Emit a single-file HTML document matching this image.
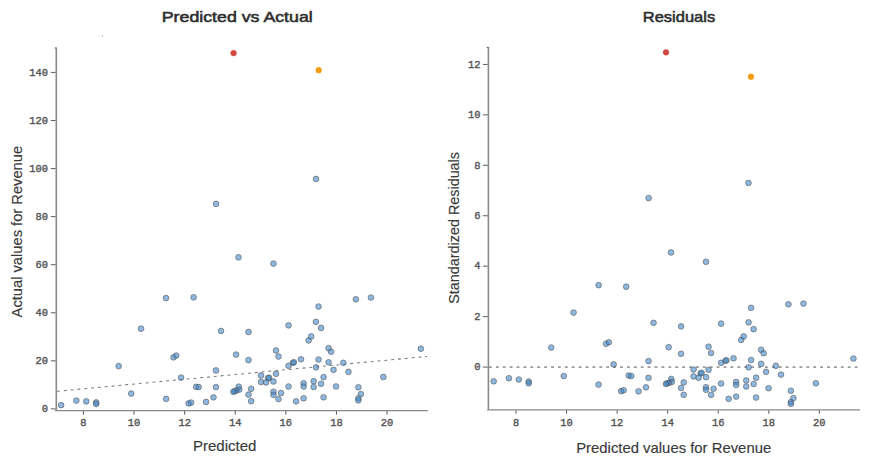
<!DOCTYPE html>
<html><head><meta charset="utf-8"><title>Regression diagnostics</title>
<style>
html,body{margin:0;padding:0;background:#fff;}
body{width:880px;height:466px;overflow:hidden;font-family:"Liberation Sans",sans-serif;}
svg{display:block;}
.t{font-family:"Liberation Sans",sans-serif;font-weight:normal;font-size:15px;fill:#2e2e2e;stroke:#2e2e2e;stroke-width:0.55px;}
.l{font-family:"Liberation Sans",sans-serif;font-size:14.4px;fill:#3a3a3a;stroke:#3a3a3a;stroke-width:0.15px;}
.k{font-family:"Liberation Mono",monospace;font-size:11.2px;font-weight:normal;fill:#555;stroke:#555;stroke-width:0.4px;}
</style></head><body>
<svg width="880" height="466" viewBox="0 0 880 466">
<rect width="880" height="466" fill="#fff"/>

<text class="t" x="161.75" y="21.9" textLength="151" lengthAdjust="spacingAndGlyphs">Predicted vs Actual</text>
<text class="t" x="642.8" y="21.9" textLength="72.4" lengthAdjust="spacingAndGlyphs">Residuals</text>
<text class="l" x="192.9" y="451.3" textLength="63.6" lengthAdjust="spacingAndGlyphs">Predicted</text>
<text class="l" x="576.2" y="452.8" textLength="195" lengthAdjust="spacingAndGlyphs">Predicted values for Revenue</text>
<text class="l" transform="translate(22.1,317.4) rotate(-90)" textLength="171.5" lengthAdjust="spacingAndGlyphs">Actual values for Revenue</text>
<text class="l" transform="translate(459,303.8) rotate(-90)" textLength="151.8" lengthAdjust="spacingAndGlyphs">Standardized Residuals</text>
<g stroke="#888" stroke-width="1.6" fill="none">
<path d="M56.3,47.6 V410.4"/><path d="M55,410.5 H427.9" stroke-width="1.25"/>
<path d="M488.4,47 V409.8"/><path d="M487.1,409.85 H859.9" stroke-width="1.25"/>
</g>
<g stroke="#5c5c5c" stroke-width="1" fill="none">
<path d="M54.8,48 H56.3"/><path d="M486.9,47.4 H488.4"/>
<path d="M50.9,408.90 H55.6"/>
<path d="M50.9,360.83 H55.6"/>
<path d="M50.9,312.76 H55.6"/>
<path d="M50.9,264.68 H55.6"/>
<path d="M50.9,216.61 H55.6"/>
<path d="M50.9,168.54 H55.6"/>
<path d="M50.9,120.47 H55.6"/>
<path d="M50.9,72.40 H55.6"/>
<path d="M83.45,411 V414.7"/>
<path d="M134.05,411 V414.7"/>
<path d="M184.65,411 V414.7"/>
<path d="M235.25,411 V414.7"/>
<path d="M285.85,411 V414.7"/>
<path d="M336.45,411 V414.7"/>
<path d="M387.05,411 V414.7"/>
<path d="M482.9,367.07 H487.7"/>
<path d="M482.9,316.63 H487.7"/>
<path d="M482.9,266.19 H487.7"/>
<path d="M482.9,215.75 H487.7"/>
<path d="M482.9,165.31 H487.7"/>
<path d="M482.9,114.87 H487.7"/>
<path d="M482.9,64.43 H487.7"/>
<path d="M516.00,410.4 V413.8"/>
<path d="M566.56,410.4 V413.8"/>
<path d="M617.12,410.4 V413.8"/>
<path d="M667.68,410.4 V413.8"/>
<path d="M718.24,410.4 V413.8"/>
<path d="M768.80,410.4 V413.8"/>
<path d="M819.36,410.4 V413.8"/>
</g>
<text class="k" x="41.85" y="412.00" textLength="6.25" lengthAdjust="spacingAndGlyphs">0</text>
<text class="k" x="35.60" y="363.93" textLength="12.50" lengthAdjust="spacingAndGlyphs">20</text>
<text class="k" x="35.60" y="315.86" textLength="12.50" lengthAdjust="spacingAndGlyphs">40</text>
<text class="k" x="35.60" y="267.78" textLength="12.50" lengthAdjust="spacingAndGlyphs">60</text>
<text class="k" x="35.60" y="219.71" textLength="12.50" lengthAdjust="spacingAndGlyphs">80</text>
<text class="k" x="29.35" y="171.64" textLength="18.75" lengthAdjust="spacingAndGlyphs">100</text>
<text class="k" x="29.35" y="123.57" textLength="18.75" lengthAdjust="spacingAndGlyphs">120</text>
<text class="k" x="29.35" y="75.50" textLength="18.75" lengthAdjust="spacingAndGlyphs">140</text>
<text class="k" x="80.33" y="426.40" textLength="6.25" lengthAdjust="spacingAndGlyphs">8</text>
<text class="k" x="127.80" y="426.40" textLength="12.50" lengthAdjust="spacingAndGlyphs">10</text>
<text class="k" x="178.40" y="426.40" textLength="12.50" lengthAdjust="spacingAndGlyphs">12</text>
<text class="k" x="229.00" y="426.40" textLength="12.50" lengthAdjust="spacingAndGlyphs">14</text>
<text class="k" x="279.60" y="426.40" textLength="12.50" lengthAdjust="spacingAndGlyphs">16</text>
<text class="k" x="330.20" y="426.40" textLength="12.50" lengthAdjust="spacingAndGlyphs">18</text>
<text class="k" x="380.80" y="426.40" textLength="12.50" lengthAdjust="spacingAndGlyphs">20</text>
<text class="k" x="474.25" y="370.27" textLength="6.25" lengthAdjust="spacingAndGlyphs">0</text>
<text class="k" x="474.25" y="319.83" textLength="6.25" lengthAdjust="spacingAndGlyphs">2</text>
<text class="k" x="474.25" y="269.39" textLength="6.25" lengthAdjust="spacingAndGlyphs">4</text>
<text class="k" x="474.25" y="218.95" textLength="6.25" lengthAdjust="spacingAndGlyphs">6</text>
<text class="k" x="474.25" y="168.51" textLength="6.25" lengthAdjust="spacingAndGlyphs">8</text>
<text class="k" x="468.00" y="118.07" textLength="12.50" lengthAdjust="spacingAndGlyphs">10</text>
<text class="k" x="468.00" y="67.63" textLength="12.50" lengthAdjust="spacingAndGlyphs">12</text>
<text class="k" x="512.88" y="425.70" textLength="6.25" lengthAdjust="spacingAndGlyphs">8</text>
<text class="k" x="560.31" y="425.70" textLength="12.50" lengthAdjust="spacingAndGlyphs">10</text>
<text class="k" x="610.87" y="425.70" textLength="12.50" lengthAdjust="spacingAndGlyphs">12</text>
<text class="k" x="661.43" y="425.70" textLength="12.50" lengthAdjust="spacingAndGlyphs">14</text>
<text class="k" x="711.99" y="425.70" textLength="12.50" lengthAdjust="spacingAndGlyphs">16</text>
<text class="k" x="762.55" y="425.70" textLength="12.50" lengthAdjust="spacingAndGlyphs">18</text>
<text class="k" x="813.11" y="425.70" textLength="12.50" lengthAdjust="spacingAndGlyphs">20</text>
<path d="M57,391.3 L427,356.4" stroke="#7a7a7a" stroke-width="1.05" stroke-dasharray="2.9 3.95" fill="none"/>
<path d="M489,367.1 H859" stroke="#9a9a9a" stroke-width="1.6" stroke-dasharray="2.8 4.1" fill="none"/>
<g>
<circle cx="61.15" cy="405.14" r="2.85" fill="#3d85c8" fill-opacity="0.58" stroke="#555" stroke-opacity="0.65" stroke-width="0.9"/>
<circle cx="76.34" cy="400.62" r="2.85" fill="#3d85c8" fill-opacity="0.58" stroke="#555" stroke-opacity="0.65" stroke-width="0.9"/>
<circle cx="86.26" cy="401.38" r="2.85" fill="#3d85c8" fill-opacity="0.58" stroke="#555" stroke-opacity="0.65" stroke-width="0.9"/>
<circle cx="96.18" cy="402.38" r="2.85" fill="#3d85c8" fill-opacity="0.58" stroke="#555" stroke-opacity="0.65" stroke-width="0.9"/>
<circle cx="96.18" cy="403.89" r="2.85" fill="#3d85c8" fill-opacity="0.58" stroke="#555" stroke-opacity="0.65" stroke-width="0.9"/>
<circle cx="118.66" cy="366.12" r="2.85" fill="#3d85c8" fill-opacity="0.58" stroke="#555" stroke-opacity="0.65" stroke-width="0.9"/>
<circle cx="131.21" cy="393.59" r="2.85" fill="#3d85c8" fill-opacity="0.58" stroke="#555" stroke-opacity="0.65" stroke-width="0.9"/>
<circle cx="166.12" cy="398.87" r="2.85" fill="#3d85c8" fill-opacity="0.58" stroke="#555" stroke-opacity="0.65" stroke-width="0.9"/>
<circle cx="173.53" cy="357.33" r="2.85" fill="#3d85c8" fill-opacity="0.58" stroke="#555" stroke-opacity="0.65" stroke-width="0.9"/>
<circle cx="176.29" cy="355.57" r="2.85" fill="#3d85c8" fill-opacity="0.58" stroke="#555" stroke-opacity="0.65" stroke-width="0.9"/>
<circle cx="181.07" cy="377.52" r="2.85" fill="#3d85c8" fill-opacity="0.58" stroke="#555" stroke-opacity="0.65" stroke-width="0.9"/>
<circle cx="188.60" cy="403.39" r="2.85" fill="#3d85c8" fill-opacity="0.58" stroke="#555" stroke-opacity="0.65" stroke-width="0.9"/>
<circle cx="191.11" cy="402.63" r="2.85" fill="#3d85c8" fill-opacity="0.58" stroke="#555" stroke-opacity="0.65" stroke-width="0.9"/>
<circle cx="196.13" cy="386.81" r="2.85" fill="#3d85c8" fill-opacity="0.58" stroke="#555" stroke-opacity="0.65" stroke-width="0.9"/>
<circle cx="198.65" cy="387.06" r="2.85" fill="#3d85c8" fill-opacity="0.58" stroke="#555" stroke-opacity="0.65" stroke-width="0.9"/>
<circle cx="206.05" cy="401.88" r="2.85" fill="#3d85c8" fill-opacity="0.58" stroke="#555" stroke-opacity="0.65" stroke-width="0.9"/>
<circle cx="213.46" cy="397.36" r="2.85" fill="#3d85c8" fill-opacity="0.58" stroke="#555" stroke-opacity="0.65" stroke-width="0.9"/>
<circle cx="215.97" cy="370.39" r="2.85" fill="#3d85c8" fill-opacity="0.58" stroke="#555" stroke-opacity="0.65" stroke-width="0.9"/>
<circle cx="215.97" cy="387.06" r="2.85" fill="#3d85c8" fill-opacity="0.58" stroke="#555" stroke-opacity="0.65" stroke-width="0.9"/>
<circle cx="236.09" cy="354.57" r="2.85" fill="#3d85c8" fill-opacity="0.58" stroke="#555" stroke-opacity="0.65" stroke-width="0.9"/>
<circle cx="248.52" cy="360.09" r="2.85" fill="#3d85c8" fill-opacity="0.58" stroke="#555" stroke-opacity="0.65" stroke-width="0.9"/>
<circle cx="248.52" cy="394.60" r="2.85" fill="#3d85c8" fill-opacity="0.58" stroke="#555" stroke-opacity="0.65" stroke-width="0.9"/>
<circle cx="251.16" cy="388.82" r="2.85" fill="#3d85c8" fill-opacity="0.58" stroke="#555" stroke-opacity="0.65" stroke-width="0.9"/>
<circle cx="251.16" cy="401.13" r="2.85" fill="#3d85c8" fill-opacity="0.58" stroke="#555" stroke-opacity="0.65" stroke-width="0.9"/>
<circle cx="275.99" cy="350.48" r="2.85" fill="#3d85c8" fill-opacity="0.58" stroke="#555" stroke-opacity="0.65" stroke-width="0.9"/>
<circle cx="278.50" cy="356.51" r="2.85" fill="#3d85c8" fill-opacity="0.58" stroke="#555" stroke-opacity="0.65" stroke-width="0.9"/>
<circle cx="288.54" cy="325.37" r="2.85" fill="#3d85c8" fill-opacity="0.58" stroke="#555" stroke-opacity="0.65" stroke-width="0.9"/>
<circle cx="288.54" cy="365.80" r="2.85" fill="#3d85c8" fill-opacity="0.58" stroke="#555" stroke-opacity="0.65" stroke-width="0.9"/>
<circle cx="292.94" cy="362.79" r="2.85" fill="#3d85c8" fill-opacity="0.58" stroke="#555" stroke-opacity="0.65" stroke-width="0.9"/>
<circle cx="293.94" cy="362.28" r="2.85" fill="#3d85c8" fill-opacity="0.58" stroke="#555" stroke-opacity="0.65" stroke-width="0.9"/>
<circle cx="300.97" cy="359.27" r="2.85" fill="#3d85c8" fill-opacity="0.58" stroke="#555" stroke-opacity="0.65" stroke-width="0.9"/>
<circle cx="308.63" cy="340.43" r="2.85" fill="#3d85c8" fill-opacity="0.58" stroke="#555" stroke-opacity="0.65" stroke-width="0.9"/>
<circle cx="311.15" cy="336.42" r="2.85" fill="#3d85c8" fill-opacity="0.58" stroke="#555" stroke-opacity="0.65" stroke-width="0.9"/>
<circle cx="315.92" cy="321.85" r="2.85" fill="#3d85c8" fill-opacity="0.58" stroke="#555" stroke-opacity="0.65" stroke-width="0.9"/>
<circle cx="321.07" cy="327.88" r="2.85" fill="#3d85c8" fill-opacity="0.58" stroke="#555" stroke-opacity="0.65" stroke-width="0.9"/>
<circle cx="318.55" cy="306.53" r="2.85" fill="#3d85c8" fill-opacity="0.58" stroke="#555" stroke-opacity="0.65" stroke-width="0.9"/>
<circle cx="318.55" cy="359.52" r="2.85" fill="#3d85c8" fill-opacity="0.58" stroke="#555" stroke-opacity="0.65" stroke-width="0.9"/>
<circle cx="316.04" cy="367.31" r="2.85" fill="#3d85c8" fill-opacity="0.58" stroke="#555" stroke-opacity="0.65" stroke-width="0.9"/>
<circle cx="328.60" cy="348.22" r="2.85" fill="#3d85c8" fill-opacity="0.58" stroke="#555" stroke-opacity="0.65" stroke-width="0.9"/>
<circle cx="331.11" cy="351.74" r="2.85" fill="#3d85c8" fill-opacity="0.58" stroke="#555" stroke-opacity="0.65" stroke-width="0.9"/>
<circle cx="328.60" cy="362.28" r="2.85" fill="#3d85c8" fill-opacity="0.58" stroke="#555" stroke-opacity="0.65" stroke-width="0.9"/>
<circle cx="333.50" cy="369.82" r="2.85" fill="#3d85c8" fill-opacity="0.58" stroke="#555" stroke-opacity="0.65" stroke-width="0.9"/>
<circle cx="343.29" cy="362.79" r="2.85" fill="#3d85c8" fill-opacity="0.58" stroke="#555" stroke-opacity="0.65" stroke-width="0.9"/>
<circle cx="348.44" cy="371.83" r="2.85" fill="#3d85c8" fill-opacity="0.58" stroke="#555" stroke-opacity="0.65" stroke-width="0.9"/>
<circle cx="420.89" cy="348.72" r="2.85" fill="#3d85c8" fill-opacity="0.58" stroke="#555" stroke-opacity="0.65" stroke-width="0.9"/>
<circle cx="383.35" cy="376.95" r="2.85" fill="#3d85c8" fill-opacity="0.58" stroke="#555" stroke-opacity="0.65" stroke-width="0.9"/>
<circle cx="261.04" cy="375.44" r="2.85" fill="#3d85c8" fill-opacity="0.58" stroke="#555" stroke-opacity="0.65" stroke-width="0.9"/>
<circle cx="268.07" cy="378.20" r="2.85" fill="#3d85c8" fill-opacity="0.58" stroke="#555" stroke-opacity="0.65" stroke-width="0.9"/>
<circle cx="269.08" cy="377.70" r="2.85" fill="#3d85c8" fill-opacity="0.58" stroke="#555" stroke-opacity="0.65" stroke-width="0.9"/>
<circle cx="275.99" cy="373.84" r="2.85" fill="#3d85c8" fill-opacity="0.58" stroke="#555" stroke-opacity="0.65" stroke-width="0.9"/>
<circle cx="261.04" cy="381.97" r="2.85" fill="#3d85c8" fill-opacity="0.58" stroke="#555" stroke-opacity="0.65" stroke-width="0.9"/>
<circle cx="266.07" cy="382.47" r="2.85" fill="#3d85c8" fill-opacity="0.58" stroke="#555" stroke-opacity="0.65" stroke-width="0.9"/>
<circle cx="273.47" cy="381.47" r="2.85" fill="#3d85c8" fill-opacity="0.58" stroke="#555" stroke-opacity="0.65" stroke-width="0.9"/>
<circle cx="273.47" cy="391.77" r="2.85" fill="#3d85c8" fill-opacity="0.58" stroke="#555" stroke-opacity="0.65" stroke-width="0.9"/>
<circle cx="273.47" cy="394.78" r="2.85" fill="#3d85c8" fill-opacity="0.58" stroke="#555" stroke-opacity="0.65" stroke-width="0.9"/>
<circle cx="281.01" cy="393.02" r="2.85" fill="#3d85c8" fill-opacity="0.58" stroke="#555" stroke-opacity="0.65" stroke-width="0.9"/>
<circle cx="278.50" cy="399.05" r="2.85" fill="#3d85c8" fill-opacity="0.58" stroke="#555" stroke-opacity="0.65" stroke-width="0.9"/>
<circle cx="288.54" cy="386.49" r="2.85" fill="#3d85c8" fill-opacity="0.58" stroke="#555" stroke-opacity="0.65" stroke-width="0.9"/>
<circle cx="296.08" cy="401.31" r="2.85" fill="#3d85c8" fill-opacity="0.58" stroke="#555" stroke-opacity="0.65" stroke-width="0.9"/>
<circle cx="303.61" cy="383.23" r="2.85" fill="#3d85c8" fill-opacity="0.58" stroke="#555" stroke-opacity="0.65" stroke-width="0.9"/>
<circle cx="303.61" cy="386.49" r="2.85" fill="#3d85c8" fill-opacity="0.58" stroke="#555" stroke-opacity="0.65" stroke-width="0.9"/>
<circle cx="303.61" cy="398.30" r="2.85" fill="#3d85c8" fill-opacity="0.58" stroke="#555" stroke-opacity="0.65" stroke-width="0.9"/>
<circle cx="313.66" cy="381.22" r="2.85" fill="#3d85c8" fill-opacity="0.58" stroke="#555" stroke-opacity="0.65" stroke-width="0.9"/>
<circle cx="313.66" cy="386.99" r="2.85" fill="#3d85c8" fill-opacity="0.58" stroke="#555" stroke-opacity="0.65" stroke-width="0.9"/>
<circle cx="321.07" cy="383.73" r="2.85" fill="#3d85c8" fill-opacity="0.58" stroke="#555" stroke-opacity="0.65" stroke-width="0.9"/>
<circle cx="323.58" cy="377.20" r="2.85" fill="#3d85c8" fill-opacity="0.58" stroke="#555" stroke-opacity="0.65" stroke-width="0.9"/>
<circle cx="323.58" cy="397.29" r="2.85" fill="#3d85c8" fill-opacity="0.58" stroke="#555" stroke-opacity="0.65" stroke-width="0.9"/>
<circle cx="336.01" cy="386.49" r="2.85" fill="#3d85c8" fill-opacity="0.58" stroke="#555" stroke-opacity="0.65" stroke-width="0.9"/>
<circle cx="358.36" cy="387.24" r="2.85" fill="#3d85c8" fill-opacity="0.58" stroke="#555" stroke-opacity="0.65" stroke-width="0.9"/>
<circle cx="360.87" cy="394.03" r="2.85" fill="#3d85c8" fill-opacity="0.58" stroke="#555" stroke-opacity="0.65" stroke-width="0.9"/>
<circle cx="358.36" cy="398.30" r="2.85" fill="#3d85c8" fill-opacity="0.58" stroke="#555" stroke-opacity="0.65" stroke-width="0.9"/>
<circle cx="358.36" cy="400.30" r="2.85" fill="#3d85c8" fill-opacity="0.58" stroke="#555" stroke-opacity="0.65" stroke-width="0.9"/>
<circle cx="238.47" cy="257.37" r="2.85" fill="#3d85c8" fill-opacity="0.58" stroke="#555" stroke-opacity="0.65" stroke-width="0.9"/>
<circle cx="166.00" cy="298.06" r="2.85" fill="#3d85c8" fill-opacity="0.58" stroke="#555" stroke-opacity="0.65" stroke-width="0.9"/>
<circle cx="193.62" cy="297.31" r="2.85" fill="#3d85c8" fill-opacity="0.58" stroke="#555" stroke-opacity="0.65" stroke-width="0.9"/>
<circle cx="141.01" cy="328.70" r="2.85" fill="#3d85c8" fill-opacity="0.58" stroke="#555" stroke-opacity="0.65" stroke-width="0.9"/>
<circle cx="221.02" cy="330.96" r="2.85" fill="#3d85c8" fill-opacity="0.58" stroke="#555" stroke-opacity="0.65" stroke-width="0.9"/>
<circle cx="248.52" cy="331.96" r="2.85" fill="#3d85c8" fill-opacity="0.58" stroke="#555" stroke-opacity="0.65" stroke-width="0.9"/>
<circle cx="273.47" cy="263.62" r="2.85" fill="#3d85c8" fill-opacity="0.58" stroke="#555" stroke-opacity="0.65" stroke-width="0.9"/>
<circle cx="355.85" cy="299.28" r="2.85" fill="#3d85c8" fill-opacity="0.58" stroke="#555" stroke-opacity="0.65" stroke-width="0.9"/>
<circle cx="370.92" cy="297.52" r="2.85" fill="#3d85c8" fill-opacity="0.58" stroke="#555" stroke-opacity="0.65" stroke-width="0.9"/>
<circle cx="216.08" cy="203.84" r="2.85" fill="#3d85c8" fill-opacity="0.58" stroke="#555" stroke-opacity="0.65" stroke-width="0.9"/>
<circle cx="316.05" cy="178.97" r="2.85" fill="#3d85c8" fill-opacity="0.58" stroke="#555" stroke-opacity="0.65" stroke-width="0.9"/>
<circle cx="238.68" cy="386.65" r="2.85" fill="#3d85c8" fill-opacity="0.58" stroke="#555" stroke-opacity="0.65" stroke-width="0.9"/>
<circle cx="239.28" cy="389.55" r="2.85" fill="#3d85c8" fill-opacity="0.58" stroke="#555" stroke-opacity="0.65" stroke-width="0.9"/>
<circle cx="236.53" cy="390.55" r="2.85" fill="#3d85c8" fill-opacity="0.58" stroke="#555" stroke-opacity="0.65" stroke-width="0.9"/>
<circle cx="234.58" cy="391.15" r="2.85" fill="#3d85c8" fill-opacity="0.58" stroke="#555" stroke-opacity="0.65" stroke-width="0.9"/>
<circle cx="233.37" cy="391.85" r="2.85" fill="#3d85c8" fill-opacity="0.58" stroke="#555" stroke-opacity="0.65" stroke-width="0.9"/>
<circle cx="233.58" cy="53.11" r="2.9" fill="#d24840" fill-opacity="1" stroke="#d24840" stroke-opacity="0.5" stroke-width="0.9"/>
<circle cx="318.72" cy="70.18" r="2.9" fill="#f39c0f" fill-opacity="1" stroke="#f39c0f" stroke-opacity="0.5" stroke-width="0.9"/>
<circle cx="493.70" cy="381.29" r="2.85" fill="#3d85c8" fill-opacity="0.58" stroke="#555" stroke-opacity="0.65" stroke-width="0.9"/>
<circle cx="508.89" cy="378.27" r="2.85" fill="#3d85c8" fill-opacity="0.58" stroke="#555" stroke-opacity="0.65" stroke-width="0.9"/>
<circle cx="518.81" cy="379.53" r="2.85" fill="#3d85c8" fill-opacity="0.58" stroke="#555" stroke-opacity="0.65" stroke-width="0.9"/>
<circle cx="528.73" cy="381.54" r="2.85" fill="#3d85c8" fill-opacity="0.58" stroke="#555" stroke-opacity="0.65" stroke-width="0.9"/>
<circle cx="528.73" cy="383.30" r="2.85" fill="#3d85c8" fill-opacity="0.58" stroke="#555" stroke-opacity="0.65" stroke-width="0.9"/>
<circle cx="551.21" cy="347.53" r="2.85" fill="#3d85c8" fill-opacity="0.58" stroke="#555" stroke-opacity="0.65" stroke-width="0.9"/>
<circle cx="563.76" cy="376.01" r="2.85" fill="#3d85c8" fill-opacity="0.58" stroke="#555" stroke-opacity="0.65" stroke-width="0.9"/>
<circle cx="598.55" cy="384.55" r="2.85" fill="#3d85c8" fill-opacity="0.58" stroke="#555" stroke-opacity="0.65" stroke-width="0.9"/>
<circle cx="606.08" cy="343.77" r="2.85" fill="#3d85c8" fill-opacity="0.58" stroke="#555" stroke-opacity="0.65" stroke-width="0.9"/>
<circle cx="608.84" cy="342.26" r="2.85" fill="#3d85c8" fill-opacity="0.58" stroke="#555" stroke-opacity="0.65" stroke-width="0.9"/>
<circle cx="613.62" cy="364.36" r="2.85" fill="#3d85c8" fill-opacity="0.58" stroke="#555" stroke-opacity="0.65" stroke-width="0.9"/>
<circle cx="621.15" cy="391.08" r="2.85" fill="#3d85c8" fill-opacity="0.58" stroke="#555" stroke-opacity="0.65" stroke-width="0.9"/>
<circle cx="623.66" cy="390.33" r="2.85" fill="#3d85c8" fill-opacity="0.58" stroke="#555" stroke-opacity="0.65" stroke-width="0.9"/>
<circle cx="628.68" cy="375.51" r="2.85" fill="#3d85c8" fill-opacity="0.58" stroke="#555" stroke-opacity="0.65" stroke-width="0.9"/>
<circle cx="631.20" cy="376.01" r="2.85" fill="#3d85c8" fill-opacity="0.58" stroke="#555" stroke-opacity="0.65" stroke-width="0.9"/>
<circle cx="638.60" cy="391.33" r="2.85" fill="#3d85c8" fill-opacity="0.58" stroke="#555" stroke-opacity="0.65" stroke-width="0.9"/>
<circle cx="646.01" cy="387.31" r="2.85" fill="#3d85c8" fill-opacity="0.58" stroke="#555" stroke-opacity="0.65" stroke-width="0.9"/>
<circle cx="648.52" cy="361.10" r="2.85" fill="#3d85c8" fill-opacity="0.58" stroke="#555" stroke-opacity="0.65" stroke-width="0.9"/>
<circle cx="648.52" cy="377.77" r="2.85" fill="#3d85c8" fill-opacity="0.58" stroke="#555" stroke-opacity="0.65" stroke-width="0.9"/>
<circle cx="653.57" cy="322.85" r="2.85" fill="#3d85c8" fill-opacity="0.58" stroke="#555" stroke-opacity="0.65" stroke-width="0.9"/>
<circle cx="668.64" cy="347.21" r="2.85" fill="#3d85c8" fill-opacity="0.58" stroke="#555" stroke-opacity="0.65" stroke-width="0.9"/>
<circle cx="681.07" cy="326.37" r="2.85" fill="#3d85c8" fill-opacity="0.58" stroke="#555" stroke-opacity="0.65" stroke-width="0.9"/>
<circle cx="681.07" cy="353.74" r="2.85" fill="#3d85c8" fill-opacity="0.58" stroke="#555" stroke-opacity="0.65" stroke-width="0.9"/>
<circle cx="708.54" cy="346.71" r="2.85" fill="#3d85c8" fill-opacity="0.58" stroke="#555" stroke-opacity="0.65" stroke-width="0.9"/>
<circle cx="711.05" cy="352.99" r="2.85" fill="#3d85c8" fill-opacity="0.58" stroke="#555" stroke-opacity="0.65" stroke-width="0.9"/>
<circle cx="721.09" cy="323.61" r="2.85" fill="#3d85c8" fill-opacity="0.58" stroke="#555" stroke-opacity="0.65" stroke-width="0.9"/>
<circle cx="721.09" cy="362.79" r="2.85" fill="#3d85c8" fill-opacity="0.58" stroke="#555" stroke-opacity="0.65" stroke-width="0.9"/>
<circle cx="725.49" cy="360.78" r="2.85" fill="#3d85c8" fill-opacity="0.58" stroke="#555" stroke-opacity="0.65" stroke-width="0.9"/>
<circle cx="726.49" cy="360.27" r="2.85" fill="#3d85c8" fill-opacity="0.58" stroke="#555" stroke-opacity="0.65" stroke-width="0.9"/>
<circle cx="733.52" cy="358.26" r="2.85" fill="#3d85c8" fill-opacity="0.58" stroke="#555" stroke-opacity="0.65" stroke-width="0.9"/>
<circle cx="741.18" cy="339.93" r="2.85" fill="#3d85c8" fill-opacity="0.58" stroke="#555" stroke-opacity="0.65" stroke-width="0.9"/>
<circle cx="743.70" cy="336.42" r="2.85" fill="#3d85c8" fill-opacity="0.58" stroke="#555" stroke-opacity="0.65" stroke-width="0.9"/>
<circle cx="748.59" cy="322.35" r="2.85" fill="#3d85c8" fill-opacity="0.58" stroke="#555" stroke-opacity="0.65" stroke-width="0.9"/>
<circle cx="753.62" cy="329.13" r="2.85" fill="#3d85c8" fill-opacity="0.58" stroke="#555" stroke-opacity="0.65" stroke-width="0.9"/>
<circle cx="751.10" cy="307.79" r="2.85" fill="#3d85c8" fill-opacity="0.58" stroke="#555" stroke-opacity="0.65" stroke-width="0.9"/>
<circle cx="751.10" cy="360.02" r="2.85" fill="#3d85c8" fill-opacity="0.58" stroke="#555" stroke-opacity="0.65" stroke-width="0.9"/>
<circle cx="748.60" cy="367.31" r="2.85" fill="#3d85c8" fill-opacity="0.58" stroke="#555" stroke-opacity="0.65" stroke-width="0.9"/>
<circle cx="761.15" cy="349.73" r="2.85" fill="#3d85c8" fill-opacity="0.58" stroke="#555" stroke-opacity="0.65" stroke-width="0.9"/>
<circle cx="763.66" cy="353.24" r="2.85" fill="#3d85c8" fill-opacity="0.58" stroke="#555" stroke-opacity="0.65" stroke-width="0.9"/>
<circle cx="761.15" cy="363.79" r="2.85" fill="#3d85c8" fill-opacity="0.58" stroke="#555" stroke-opacity="0.65" stroke-width="0.9"/>
<circle cx="766.05" cy="371.83" r="2.85" fill="#3d85c8" fill-opacity="0.58" stroke="#555" stroke-opacity="0.65" stroke-width="0.9"/>
<circle cx="775.84" cy="365.80" r="2.85" fill="#3d85c8" fill-opacity="0.58" stroke="#555" stroke-opacity="0.65" stroke-width="0.9"/>
<circle cx="780.99" cy="374.59" r="2.85" fill="#3d85c8" fill-opacity="0.58" stroke="#555" stroke-opacity="0.65" stroke-width="0.9"/>
<circle cx="788.40" cy="304.27" r="2.85" fill="#3d85c8" fill-opacity="0.58" stroke="#555" stroke-opacity="0.65" stroke-width="0.9"/>
<circle cx="803.47" cy="303.52" r="2.85" fill="#3d85c8" fill-opacity="0.58" stroke="#555" stroke-opacity="0.65" stroke-width="0.9"/>
<circle cx="853.44" cy="358.52" r="2.85" fill="#3d85c8" fill-opacity="0.58" stroke="#555" stroke-opacity="0.65" stroke-width="0.9"/>
<circle cx="815.90" cy="383.23" r="2.85" fill="#3d85c8" fill-opacity="0.58" stroke="#555" stroke-opacity="0.65" stroke-width="0.9"/>
<circle cx="693.59" cy="369.57" r="2.85" fill="#3d85c8" fill-opacity="0.58" stroke="#555" stroke-opacity="0.65" stroke-width="0.9"/>
<circle cx="700.62" cy="373.33" r="2.85" fill="#3d85c8" fill-opacity="0.58" stroke="#555" stroke-opacity="0.65" stroke-width="0.9"/>
<circle cx="701.63" cy="372.83" r="2.85" fill="#3d85c8" fill-opacity="0.58" stroke="#555" stroke-opacity="0.65" stroke-width="0.9"/>
<circle cx="708.54" cy="369.82" r="2.85" fill="#3d85c8" fill-opacity="0.58" stroke="#555" stroke-opacity="0.65" stroke-width="0.9"/>
<circle cx="693.59" cy="376.45" r="2.85" fill="#3d85c8" fill-opacity="0.58" stroke="#555" stroke-opacity="0.65" stroke-width="0.9"/>
<circle cx="698.62" cy="377.70" r="2.85" fill="#3d85c8" fill-opacity="0.58" stroke="#555" stroke-opacity="0.65" stroke-width="0.9"/>
<circle cx="706.02" cy="377.20" r="2.85" fill="#3d85c8" fill-opacity="0.58" stroke="#555" stroke-opacity="0.65" stroke-width="0.9"/>
<circle cx="683.71" cy="382.47" r="2.85" fill="#3d85c8" fill-opacity="0.58" stroke="#555" stroke-opacity="0.65" stroke-width="0.9"/>
<circle cx="681.07" cy="388.00" r="2.85" fill="#3d85c8" fill-opacity="0.58" stroke="#555" stroke-opacity="0.65" stroke-width="0.9"/>
<circle cx="683.71" cy="394.78" r="2.85" fill="#3d85c8" fill-opacity="0.58" stroke="#555" stroke-opacity="0.65" stroke-width="0.9"/>
<circle cx="706.02" cy="387.24" r="2.85" fill="#3d85c8" fill-opacity="0.58" stroke="#555" stroke-opacity="0.65" stroke-width="0.9"/>
<circle cx="706.02" cy="389.76" r="2.85" fill="#3d85c8" fill-opacity="0.58" stroke="#555" stroke-opacity="0.65" stroke-width="0.9"/>
<circle cx="713.56" cy="388.75" r="2.85" fill="#3d85c8" fill-opacity="0.58" stroke="#555" stroke-opacity="0.65" stroke-width="0.9"/>
<circle cx="711.05" cy="394.78" r="2.85" fill="#3d85c8" fill-opacity="0.58" stroke="#555" stroke-opacity="0.65" stroke-width="0.9"/>
<circle cx="721.09" cy="383.48" r="2.85" fill="#3d85c8" fill-opacity="0.58" stroke="#555" stroke-opacity="0.65" stroke-width="0.9"/>
<circle cx="728.63" cy="398.80" r="2.85" fill="#3d85c8" fill-opacity="0.58" stroke="#555" stroke-opacity="0.65" stroke-width="0.9"/>
<circle cx="736.16" cy="381.97" r="2.85" fill="#3d85c8" fill-opacity="0.58" stroke="#555" stroke-opacity="0.65" stroke-width="0.9"/>
<circle cx="736.16" cy="384.98" r="2.85" fill="#3d85c8" fill-opacity="0.58" stroke="#555" stroke-opacity="0.65" stroke-width="0.9"/>
<circle cx="736.16" cy="396.54" r="2.85" fill="#3d85c8" fill-opacity="0.58" stroke="#555" stroke-opacity="0.65" stroke-width="0.9"/>
<circle cx="746.21" cy="380.46" r="2.85" fill="#3d85c8" fill-opacity="0.58" stroke="#555" stroke-opacity="0.65" stroke-width="0.9"/>
<circle cx="746.21" cy="386.49" r="2.85" fill="#3d85c8" fill-opacity="0.58" stroke="#555" stroke-opacity="0.65" stroke-width="0.9"/>
<circle cx="753.62" cy="383.98" r="2.85" fill="#3d85c8" fill-opacity="0.58" stroke="#555" stroke-opacity="0.65" stroke-width="0.9"/>
<circle cx="756.13" cy="377.70" r="2.85" fill="#3d85c8" fill-opacity="0.58" stroke="#555" stroke-opacity="0.65" stroke-width="0.9"/>
<circle cx="756.13" cy="397.54" r="2.85" fill="#3d85c8" fill-opacity="0.58" stroke="#555" stroke-opacity="0.65" stroke-width="0.9"/>
<circle cx="768.56" cy="388.25" r="2.85" fill="#3d85c8" fill-opacity="0.58" stroke="#555" stroke-opacity="0.65" stroke-width="0.9"/>
<circle cx="790.91" cy="390.76" r="2.85" fill="#3d85c8" fill-opacity="0.58" stroke="#555" stroke-opacity="0.65" stroke-width="0.9"/>
<circle cx="793.42" cy="398.04" r="2.85" fill="#3d85c8" fill-opacity="0.58" stroke="#555" stroke-opacity="0.65" stroke-width="0.9"/>
<circle cx="790.91" cy="402.06" r="2.85" fill="#3d85c8" fill-opacity="0.58" stroke="#555" stroke-opacity="0.65" stroke-width="0.9"/>
<circle cx="790.91" cy="403.82" r="2.85" fill="#3d85c8" fill-opacity="0.58" stroke="#555" stroke-opacity="0.65" stroke-width="0.9"/>
<circle cx="648.63" cy="198.07" r="2.85" fill="#3d85c8" fill-opacity="0.58" stroke="#555" stroke-opacity="0.65" stroke-width="0.9"/>
<circle cx="573.56" cy="312.58" r="2.85" fill="#3d85c8" fill-opacity="0.58" stroke="#555" stroke-opacity="0.65" stroke-width="0.9"/>
<circle cx="598.67" cy="285.21" r="2.85" fill="#3d85c8" fill-opacity="0.58" stroke="#555" stroke-opacity="0.65" stroke-width="0.9"/>
<circle cx="626.17" cy="286.71" r="2.85" fill="#3d85c8" fill-opacity="0.58" stroke="#555" stroke-opacity="0.65" stroke-width="0.9"/>
<circle cx="748.47" cy="182.90" r="2.85" fill="#3d85c8" fill-opacity="0.58" stroke="#555" stroke-opacity="0.65" stroke-width="0.9"/>
<circle cx="671.02" cy="252.47" r="2.85" fill="#3d85c8" fill-opacity="0.58" stroke="#555" stroke-opacity="0.65" stroke-width="0.9"/>
<circle cx="706.02" cy="261.76" r="2.85" fill="#3d85c8" fill-opacity="0.58" stroke="#555" stroke-opacity="0.65" stroke-width="0.9"/>
<circle cx="671.23" cy="378.95" r="2.85" fill="#3d85c8" fill-opacity="0.58" stroke="#555" stroke-opacity="0.65" stroke-width="0.9"/>
<circle cx="671.83" cy="381.85" r="2.85" fill="#3d85c8" fill-opacity="0.58" stroke="#555" stroke-opacity="0.65" stroke-width="0.9"/>
<circle cx="669.08" cy="382.85" r="2.85" fill="#3d85c8" fill-opacity="0.58" stroke="#555" stroke-opacity="0.65" stroke-width="0.9"/>
<circle cx="667.12" cy="383.35" r="2.85" fill="#3d85c8" fill-opacity="0.58" stroke="#555" stroke-opacity="0.65" stroke-width="0.9"/>
<circle cx="665.92" cy="383.95" r="2.85" fill="#3d85c8" fill-opacity="0.58" stroke="#555" stroke-opacity="0.65" stroke-width="0.9"/>
<circle cx="666.05" cy="52.35" r="2.9" fill="#d24840" fill-opacity="1" stroke="#d24840" stroke-opacity="0.5" stroke-width="0.9"/>
<circle cx="750.94" cy="76.71" r="2.9" fill="#f39c0f" fill-opacity="1" stroke="#f39c0f" stroke-opacity="0.5" stroke-width="0.9"/>
</g>
<rect x="102" y="35.5" width="1" height="1.5" fill="#bbb"/>
</svg></body></html>
